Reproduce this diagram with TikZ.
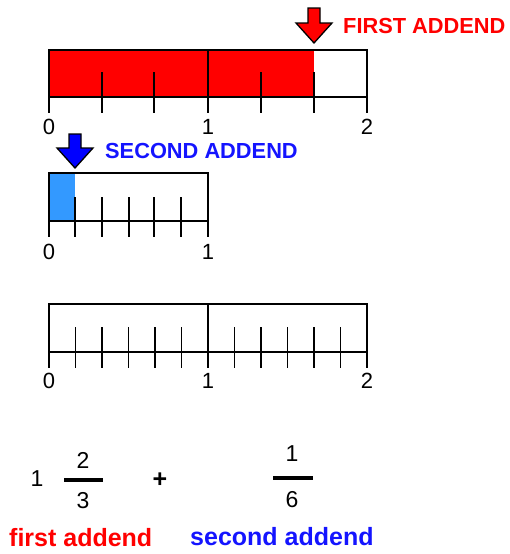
\documentclass[tikz,border=0pt]{standalone}
\usepackage{fontspec}
\setmainfont{Liberation Sans}
\definecolor{barblue}{RGB}{51,153,255}
\definecolor{txtblue}{RGB}{20,20,255}
\tikzset{
  frame/.style={line width=2.8pt},
  tick/.style={line width=1.6pt},
  axislbl/.style={font=\fontsize{22}{25}\selectfont, anchor=center, inner sep=0pt},
  eqlbl/.style={font=\fontsize{23}{27}\selectfont, anchor=center, inner sep=0pt},
  caplbl/.style={font=\fontsize{21.8}{26}\selectfont\bfseries, anchor=west, inner sep=0pt},
  wordlbl/.style={font=\fontsize{25}{30}\selectfont\bfseries, anchor=west, inner sep=0pt},
  arrowshape/.style={line width=1.3pt, draw=black, line join=miter}
}
\begin{document}
\begin{tikzpicture}[x=1pt,y=-1pt]
\useasboundingbox (0,0) rectangle (510,554);

% ---------- top bar (0..2 in thirds) ----------
\fill[red] (49,50) rectangle (314,97);
\foreach \x in {102,154,261,314} \draw[tick] (\x,72) -- (\x,97);
\foreach \x in {49,102,154,208,261,314,367} \draw[tick] (\x,97) -- (\x,113);
\draw[frame] (49,50) rectangle (367,97);
\draw[frame] (208,50) -- (208,97);
\node[axislbl] (a0) at (49,127) {0};
\node[axislbl] (a1) at (208,127) {1};
\node[axislbl] (a2) at (367,127) {2};

% red arrow
\draw[arrowshape, fill=red, shift={(314,8)}]
  (-6,0) -- (6,0) -- (6,15) -- (18,15) -- (0,35) -- (-18,15) -- (-6,15) -- cycle;
\node[caplbl, text=red] (first) at (343,26) {FIRST ADDEND};

% ---------- second bar (0..1 in sixths) ----------
\fill[barblue] (49,173) rectangle (75,221);
\foreach \x in {75,102,129,154,181} \draw[tick] (\x,197) -- (\x,221);
\foreach \x in {49,75,102,129,154,181,208} \draw[tick] (\x,221) -- (\x,237);
\draw[frame] (49,173) rectangle (208,221);
\node[axislbl] (b0) at (49,252) {0};
\node[axislbl] (b1) at (208,252) {1};

% blue arrow
\draw[arrowshape, fill=blue, shift={(75,134)}]
  (-6,0) -- (6,0) -- (6,14) -- (18,14) -- (0,34) -- (-18,14) -- (-6,14) -- cycle;
\node[caplbl, text=txtblue] (second) at (105,151) {SECOND ADDEND};

% ---------- third bar (0..2 in sixths) ----------
\foreach \i in {1,...,11} {
  \pgfmathsetmacro\xx{49+\i*26.5}
  \draw[tick] (\xx,327) -- (\xx,352);
}
\foreach \i in {0,...,12} {
  \pgfmathsetmacro\xx{49+\i*26.5}
  \draw[tick] (\xx,352) -- (\xx,368);
}
\draw[frame] (49,304) rectangle (367,352);
\draw[frame] (208,304) -- (208,352);
\node[axislbl] (c0) at (49,381) {0};
\node[axislbl] (c1) at (208,381) {1};
\node[axislbl] (c2) at (367,381) {2};

% ---------- equation ----------
\node[eqlbl] (whole) at (37,479) {1};
\node[eqlbl] (n1) at (83,460) {2};
\draw[line width=3.6pt] (64,480) -- (103,480);
\node[eqlbl] (d1) at (83,501) {3};
\node[eqlbl, font=\fontsize{25}{29}\selectfont\bfseries] (plus) at (160,480) {+};
\node[eqlbl] (n2) at (292,454) {1};
\draw[line width=3.6pt] (273,478) -- (313,478);
\node[eqlbl] (d2) at (292,500) {6};

\node[wordlbl, text=red] (fa) at (9,538) {first addend};
\node[wordlbl, text=txtblue] (sa) at (190,537) {second addend};
\end{tikzpicture}
\end{document}
